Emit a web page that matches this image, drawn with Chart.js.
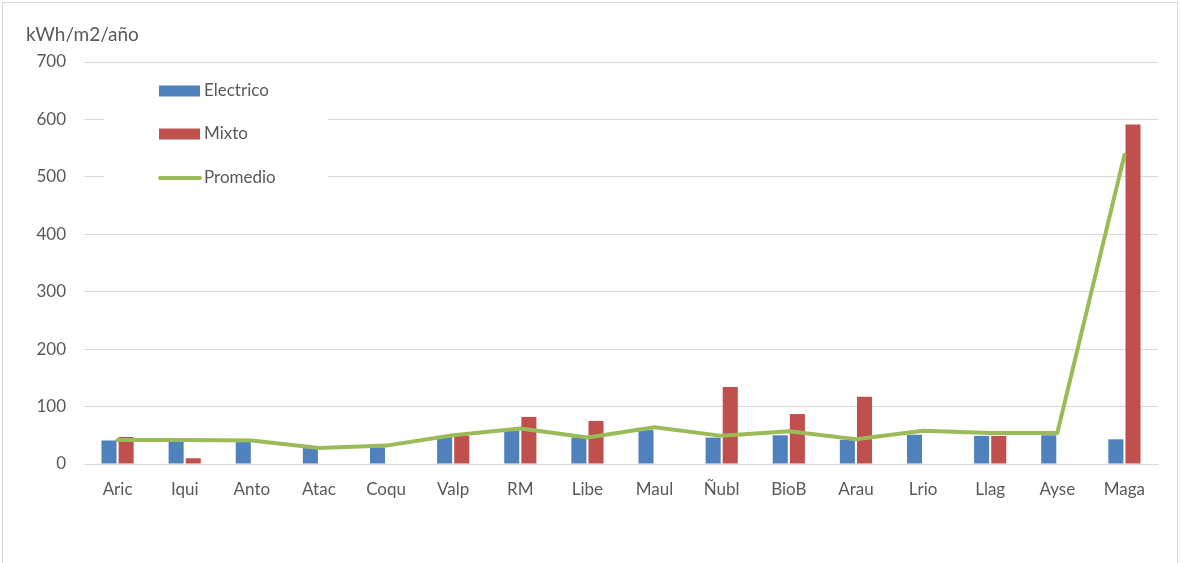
<!DOCTYPE html>
<html>
<head>
<meta charset="utf-8">
<script src="https://cdn.jsdelivr.net/npm/chart.js@4"></script>
<style>
html,body{margin:0;padding:0;background:#fff;}
#wrap{position:relative;width:1180px;height:563px;}
</style>
</head>
<body>
<div id="wrap"><canvas id="c" width="1180" height="563"></canvas></div>
<script>
const categories = ["Aric","Iqui","Anto","Atac","Coqu","Valp","RM","Libe","Maul","Ñubl","BioB","Arau","Lrio","Llag","Ayse","Maga"];
const electrico = [41, 40, 40, 28, 29, 49, 58, 46, 59, 46, 50, 42, 51, 49, 50, 43];
const mixto     = [47, 10, null, null, null, 49, 82, 75, null, 134, 87, 117, null, 49, null, 591];
const promedio  = [42, 42, 41, 28, 32, 50, 62, 46, 64, 49, 57, 43, 58, 54, 54, 538];
const yTicks = [0,100,200,300,400,500,600,700];
const yTitle = "kWh/m2/año";

const BLUE = "#4F81BD", RED = "#C0504D", GREEN = "#9BBB59", TXT = "#595959";
const FONT = "Lato, 'Open Sans', sans-serif";

const decor = {
  id: "decor",
  beforeDraw(chart) {
    const ctx = chart.ctx;
    ctx.save();
    ctx.fillStyle = "#fff";
    ctx.fillRect(0, 0, chart.width, chart.height);
    ctx.strokeStyle = "#D9D9D9";
    ctx.lineWidth = 1;
    ctx.strokeRect(2.5, 2.5, chart.width - 5, chart.height + 20);
    ctx.restore();
  },
  afterDraw(chart) {
    const ctx = chart.ctx, a = chart.chartArea;
    ctx.save();
    ctx.font = "19px " + FONT;
    ctx.fillStyle = TXT;
    ctx.textBaseline = "middle";
    ctx.textAlign = "left";
    ctx.fillText(yTitle, 26, 35);
    // legend
    const lx = a.left + 20, ly = a.top + 8;
    ctx.fillStyle = "#fff";
    ctx.fillRect(lx, ly, 224, 126);
    const sx = a.left + 75;
    const items = [
      {t: "Electrico", c: BLUE, type: "box", y: a.top + 29},
      {t: "Mixto", c: RED, type: "box", y: a.top + 72},
      {t: "Promedio", c: GREEN, type: "line", y: a.top + 116}
    ];
    items.forEach(it => {
      if (it.type === "box") {
        ctx.fillStyle = it.c;
        ctx.fillRect(sx, it.y - 5.5, 41, 11);
      } else {
        ctx.strokeStyle = it.c;
        ctx.lineWidth = 4;
        ctx.lineCap = "round";
        ctx.beginPath();
        ctx.moveTo(sx + 1, it.y);
        ctx.lineTo(sx + 41, it.y);
        ctx.stroke();
      }
      ctx.fillStyle = TXT;
      ctx.font = "17px " + FONT;
      ctx.fillText(it.t, sx + 45, it.y);
    });
    ctx.restore();
  }
};

new Chart(document.getElementById("c"), {
  type: "bar",
  data: {
    labels: categories,
    datasets: [
      {label: "Promedio", type: "line", data: promedio, borderColor: GREEN, backgroundColor: GREEN,
       borderWidth: 4, pointRadius: 0, tension: 0, order: 0, borderCapStyle: "round", borderJoinStyle: "round"},
      {label: "Electrico", data: electrico, backgroundColor: BLUE, order: 1,
       categoryPercentage: 0.51, barPercentage: 0.88},
      {label: "Mixto", data: mixto, backgroundColor: RED, order: 1,
       categoryPercentage: 0.51, barPercentage: 0.88}
    ]
  },
  options: {
    responsive: false,
    animation: false,
    layout: {padding: {top: 62, right: 22, left: 0, bottom: 0}},
    plugins: {legend: {display: false}, tooltip: {enabled: false}},
    scales: {
      x: {
        grid: {display: false, drawTicks: false},
        border: {display: true, color: "#D9D9D9", width: 1},
        ticks: {color: TXT, font: {family: FONT, size: 17}, padding: 15, maxRotation: 0, autoSkip: false},
        afterFit(s) { s.height = 99; }
      },
      y: {
        min: 0, max: 700,
        afterBuildTicks(s) { s.ticks = yTicks.map(v => ({value: v})); },
        grid: {color: "#D9D9D9", drawTicks: false, lineWidth: 1},
        border: {display: false},
        ticks: {color: TXT, font: {family: FONT, size: 17}, padding: 18},
        afterFit(s) { s.width = 84; }
      }
    }
  },
  plugins: [decor]
});
</script>
</body>
</html>
